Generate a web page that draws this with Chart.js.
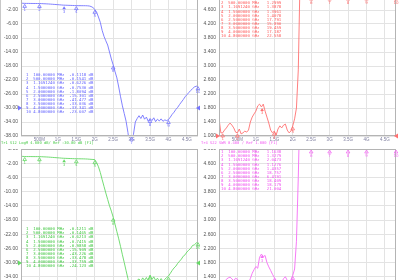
<!DOCTYPE html>
<html>
<head>
<meta charset="utf-8">
<script src="https://cdn.jsdelivr.net/npm/chart.js@4.4.1/dist/chart.umd.min.js"></script>
<style>
  html, body { margin: 0; padding: 0; background: #fff; }
  body { width: 400px; height: 280px; overflow: hidden; position: relative; }
  canvas { position: absolute; }
  .txt { position: absolute; font-family: "DejaVu Sans Mono", monospace; white-space: pre;
         transform: scale(0.5); transform-origin: 0 0; }
  .tbl { font-size: 8px; line-height: 8.2px; }
  .ttl { font-size: 7.5px; line-height: 8px; }
  #edge { position: absolute; left: 0; top: 0; width: 1px; height: 280px; background: #c8c8c8; }
</style>
</head>
<body>
<div id="edge"></div>
<canvas id="s21" width="200" height="150" style="left:0;top:-4px"></canvas>
<canvas id="s11" width="200" height="150" style="left:200px;top:-4px"></canvas>
<canvas id="s12" width="200" height="152" style="left:0;top:149px"></canvas>
<canvas id="s22" width="200" height="152" style="left:200px;top:149px"></canvas>

<div class="txt ttl" id="t12" style="left:1px;top:141px;color:#44c844"></div>
<div class="txt ttl" id="t22" style="left:201px;top:141px;color:#f050f0"></div>
<div class="txt tbl" id="m21" style="left:26px;top:72.8px;color:#6666ff"></div>
<div class="txt tbl" id="m11" style="left:221px;top:-3.2px;color:#ff6060"></div>
<div class="txt tbl" id="m12" style="left:26px;top:227.2px;color:#44c844"></div>
<div class="txt tbl" id="m22" style="left:221px;top:150.2px;color:#f050f0"></div>

<script>
// sweep points, GHz
var freqGHz = [0, 0.05, 0.1, 0.15, 0.2, 0.25, 0.3, 0.35, 0.4, 0.45,
  0.5, 0.55, 0.6, 0.65, 0.7, 0.75, 0.8, 0.85, 0.9, 0.95,
  1.0, 1.05, 1.1, 1.15, 1.2, 1.25, 1.3, 1.35, 1.4, 1.45,
  1.5, 1.55, 1.6, 1.65, 1.7, 1.75, 1.8, 1.85, 1.9, 1.95,
  2.0, 2.05, 2.1, 2.15, 2.2, 2.25, 2.3, 2.35, 2.4, 2.45,
  2.5, 2.55, 2.6, 2.65, 2.7, 2.75, 2.8, 2.85, 2.9, 2.95,
  3.0, 3.05, 3.1, 3.15, 3.2, 3.25, 3.3, 3.35, 3.4, 3.45,
  3.5, 3.55, 3.6, 3.65, 3.7, 3.75, 3.8, 3.85, 3.9, 3.95,
  4.0, 4.05, 4.1, 4.15, 4.2, 4.25, 4.3, 4.35, 4.4, 4.45,
  4.5, 4.55, 4.6, 4.65, 4.7, 4.75, 4.8];

// Tr S21 log mag (dB)
var s21 = [-0.05, -0.08, -0.11, -0.12, -0.12, -0.13, -0.13, -0.14, -0.14, -0.15,
  -0.15, -0.17, -0.20, -0.22, -0.25, -0.28, -0.32, -0.36, -0.40, -0.44,
  -0.48, -0.52, -0.57, -0.61, -0.63, -0.65, -0.67, -0.69, -0.71, -0.73,
  -0.75, -0.76, -0.76, -0.77, -0.77, -0.78, -0.80, -0.85, -1.00, -1.30,
  -1.80, -2.6, -4.0, -5.5, -7.8, -9.5, -10.8, -12.0, -14.0, -16.0,
  -17.7, -19.6, -21.4, -24.0, -26.8, -29.4, -31.6, -33.8, -37.0, -41.0,
  -44.0, -37.5, -34.0, -33.0, -32.2, -33.0, -32.0, -33.2, -32.6, -33.8,
  -33.0, -33.6, -32.8, -33.9, -33.2, -33.7, -33.1, -33.8, -33.4, -33.6,
  -33.3, -32.6, -31.8, -31.2, -30.4, -29.8, -29.0, -28.3, -27.6, -26.8,
  -26.2, -25.6, -25.0, -24.5, -24.0, -23.8, -23.6];

// Tr S12 log mag (dB)
var s12 = [-0.05, -0.09, -0.12, -0.13, -0.13, -0.13, -0.14, -0.14, -0.14, -0.14,
  -0.15, -0.17, -0.20, -0.22, -0.25, -0.28, -0.32, -0.36, -0.40, -0.44,
  -0.48, -0.52, -0.57, -0.61, -0.63, -0.65, -0.67, -0.69, -0.71, -0.73,
  -0.74, -0.75, -0.76, -0.77, -0.78, -0.80, -0.83, -0.87, -0.91, -0.95,
  -0.99, -1.8, -3.0, -4.6, -6.6, -8.5, -10.4, -12.2, -14.0, -15.5,
  -17.2, -19.2, -21.3, -23.3, -25.5, -27.8, -30.0, -32.3, -34.5, -38.5,
  -43.2, -40.5, -36.5, -35.0, -34.6, -35.3, -34.3, -35.0, -34.2, -35.2,
  -33.5, -34.8, -34.0, -35.0, -34.4, -35.2, -34.5, -35.3, -34.7, -34.2,
  -33.8, -33.0, -32.2, -31.5, -31.0, -30.2, -29.6, -29.0, -28.2, -27.8,
  -27.0, -26.5, -26.0, -25.2, -25.0, -24.5, -24.1];

// Tr S11 SWR
var s11 = [1.51, 1.09, 1.09, 1.17, 1.23, 1.31, 1.37, 1.31, 1.23, 1.11,
  1.09, 1.20, 1.06, 1.09, 1.14, 1.11, 1.17, 1.40, 1.54, 1.63,
  1.71, 1.86, 1.91, 1.83, 1.91, 1.71, 1.54, 1.37, 1.17, 1.09,
  1.14, 1.03, 1.20, 1.29, 1.23, 1.31, 1.34, 1.17, 1.09, 1.14,
  1.29, 1.49, 1.80, 2.89, 5.6, 9.0, 12.5, 15.0, 16.5, 17.2,
  17.8, 18.5, 19.0, 18.2, 17.0, 16.4, 16.0, 15.6, 15.8, 15.9,
  15.9, 16.5, 17.2, 18.0, 18.6, 19.0, 19.3, 19.6, 19.4, 19.5,
  19.5, 19.2, 18.8, 18.5, 18.2, 17.9, 17.6, 17.4, 17.2, 17.1,
  17.2, 17.5, 17.9, 18.4, 18.9, 19.4, 19.9, 20.3, 20.7, 21.0,
  21.3, 21.6, 21.9, 22.1, 22.3, 22.5, 22.6];

// Tr S22 SWR
var s22 = [1.16, 1.22, 1.16, 1.25, 1.33, 1.37, 1.39, 1.34, 1.29, 1.36,
  1.33, 1.26, 1.20, 1.15, 1.12, 1.14, 1.22, 1.35, 1.50, 1.60,
  1.69, 1.64, 1.95, 2.04, 1.97, 2.00, 1.80, 1.68, 1.58, 1.47,
  1.38, 1.30, 1.20, 1.16, 1.24, 1.35, 1.40, 1.30, 1.20, 1.30,
  1.44, 1.62, 2.40, 4.20, 6.5, 10.0, 13.0, 15.5, 17.0, 18.0,
  18.8, 18.2, 16.0, 13.0, 10.5, 8.5, 7.2, 6.6, 6.3, 6.3,
  6.4, 7.5, 9.5, 12.0, 14.5, 16.5, 17.8, 18.4, 18.6, 18.5,
  18.4, 18.3, 18.2, 18.1, 18.0, 18.0, 18.1, 18.1, 18.2, 18.2,
  18.2, 18.4, 18.6, 18.9, 19.1, 19.4, 19.6, 19.9, 20.1, 20.3,
  20.5, 20.6, 20.8, 20.9, 21.0, 21.0, 21.0];

var xTickLabels = ['', '500M', '1G', '1.5G', '2G', '2.5G', '3G', '3.5G', '4G', '4.5G'];

// marker stimulus and readouts
var markerFreq = [0.1, 0.5, 1.169124, 1.5, 2.0, 2.5, 3.0, 3.5, 4.0, 4.8];
var s21Readout = [-0.1118, -0.1541, -0.6226, -0.7530, -1.8094, -15.301, -41.477, -33.036, -33.341, -23.607];
var s11Readout = [1.0871, 1.2999, 1.3878, 1.3961, 1.4078, 17.791, 15.890, 19.459, 17.187, 22.558];
var s12Readout = [-0.1211, -0.1465, -0.6213, -0.7415, -0.9858, -15.909, -43.226, -33.478, -33.759, -24.123];
var s22Readout = [1.1638, 1.3279, 2.0473, 1.1276, 1.4357, 18.757, 6.4191, 18.409, 18.179, 21.004];

/* nearest sweep point for a marker */
function traceAt(values, f) {
  var best = 0;
  for (var i = 1; i < freqGHz.length; i++) {
    if (Math.abs(freqGHz[i] - f) < Math.abs(freqGHz[best] - f)) best = i;
  }
  return values[best];
}

var vnaPlugin = {
  id: 'vna',
  afterDatasetsDraw: function(chart, args, opts) {
    var ctx = chart.ctx, a = chart.chartArea;
    var x = chart.scales.x, y = chart.scales.y;
    ctx.save();
    ctx.strokeStyle = '#b4b4b4';
    ctx.lineWidth = 1;
    ctx.strokeRect(a.left + 0.5, a.top + 0.5, a.right - a.left - 1, a.bottom - a.top - 1);

    // reference level arrows
    var ry = Math.round(y.getPixelForValue(opts.ref));
    ctx.fillStyle = opts.color;
    ctx.beginPath();
    ctx.moveTo(a.left - 3, ry - 2.5); ctx.lineTo(a.left + 1, ry); ctx.lineTo(a.left - 3, ry + 2.5);
    ctx.fill();
    ctx.beginPath();
    ctx.moveTo(a.right + 2, ry - 2.5); ctx.lineTo(a.right - 2, ry); ctx.lineTo(a.right + 2, ry + 2.5);
    ctx.fill();

    // markers
    ctx.strokeStyle = opts.color;
    ctx.lineWidth = 0.8;
    ctx.font = '4px "DejaVu Sans"';
    ctx.textAlign = 'center';
    ctx.textBaseline = 'middle';
    markerFreq.forEach(function(f, k) {
      var px = x.getPixelForValue(f);
      var py = y.getPixelForValue(traceAt(opts.values, f));
      py = Math.max(a.top, Math.min(a.bottom, py));
      ctx.beginPath();
      ctx.moveTo(px, py + 1); ctx.lineTo(px - 1.8, py + 4); ctx.lineTo(px + 1.8, py + 4); ctx.closePath();
      if (k === 2) ctx.fill(); else ctx.stroke();
      ctx.fillText(String(k + 1), px, py + 6.5);
    });
    ctx.restore();
  }
};

function makeChart(id, values, color, yMin, yMax, yStep, dec, yWidth, padRight, ref) {
  var pts = freqGHz.map(function(f, i) { return { x: f, y: values[i] }; });
  return new Chart(document.getElementById(id), {
    type: 'line',
    data: { datasets: [{ data: pts, borderColor: color, borderWidth: 0.9, pointRadius: 0, tension: 0, fill: false }] },
    plugins: [vnaPlugin],
    options: {
      responsive: false,
      devicePixelRatio: 1,
      animation: false,
      events: [],
      layout: { padding: { left: 0, right: padRight, top: 0, bottom: 0 } },
      plugins: { legend: { display: false }, tooltip: { enabled: false },
        vna: { color: color, values: values, ref: ref } },
      scales: {
        x: {
          type: 'linear', min: 0, max: 4.8,
          grid: { color: '#e3e3e3', lineWidth: 1, drawTicks: false },
          border: { display: false },
          ticks: { stepSize: 0.5, includeBounds: false, autoSkip: false, maxRotation: 0,
            padding: 1, color: '#8080a0', font: { size: 4.5, family: 'Liberation Sans' },
            callback: function(v) { return xTickLabels[Math.round(v / 0.5)] || ''; } },
          afterFit: function(s) { s.height = 10; s.paddingLeft = 0; s.paddingRight = 0; }
        },
        y: {
          min: yMin, max: yMax,
          grid: { color: '#e3e3e3', lineWidth: 1, drawTicks: false },
          border: { display: false },
          ticks: { stepSize: yStep, padding: 3, color: '#555', font: { size: 5, family: 'Liberation Sans' },
            callback: function(v) { return v.toFixed(dec); } },
          afterFit: function(s) { s.width = yWidth; s.paddingTop = 0; s.paddingBottom = 0; }
        }
      }
    }
  });
}

makeChart('s21', s21, '#7474ff', -38, 2, 4, 2, 21, 2, -30);
makeChart('s11', s11, '#ff7070', 1, 5, 0.4, 3, 19, 4, 1);
makeChart('s12', s12, '#64d864', -38, 2, 4, 2, 21, 2, -30);
makeChart('s22', s22, '#f56cf5', 1, 5, 0.4, 3, 19, 4, 1);

function fmtFreq(f) {
  return f < 1 ? (f * 1000).toFixed(5) + ' MHz' : f.toFixed(7) + ' GHz';
}
function fmtVal(v) {
  return Math.abs(v) < 10 ? v.toFixed(4) : v.toFixed(3);
}
function fillTable(id, readout, unit) {
  var lines = markerFreq.map(function(f, k) {
    var n = String(k + 1);
    if (n.length < 2) n += ' ';
    var val = fmtVal(readout[k]);
    while (val.length < 8) val = ' ' + val;
    return n + ' ' + fmtFreq(f) + ' ' + val + unit;
  });
  document.getElementById(id).textContent = lines.join('\n');
}
fillTable('m21', s21Readout, ' dB');
fillTable('m11', s11Readout, '');
fillTable('m12', s12Readout, ' dB');
fillTable('m22', s22Readout, '');

document.getElementById('t12').textContent = 'Tr1 S12 LogM 4.000 dB/ Ref -30.00 dB [F1]';
document.getElementById('t22').textContent = 'Tr4 S22 SWR 0.400 / Ref 1.000 [F1]';
</script>
</body>
</html>
